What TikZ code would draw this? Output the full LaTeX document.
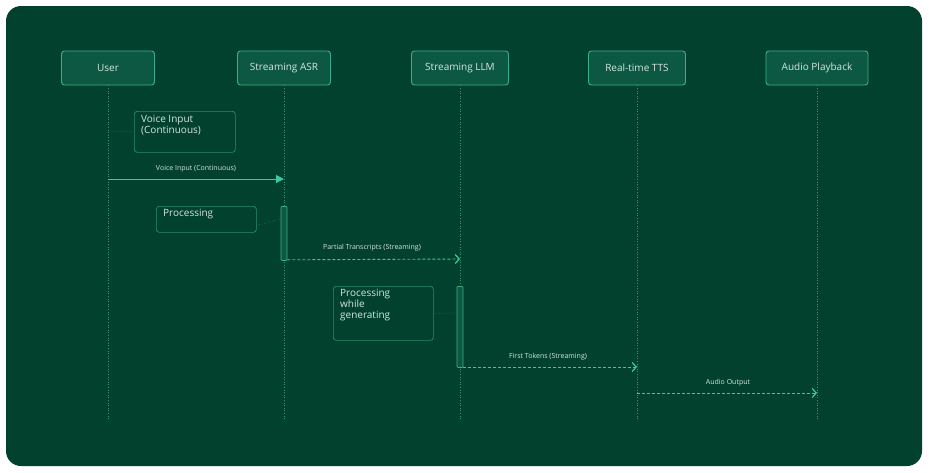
\documentclass[tikz,border=0pt]{standalone}
\usepackage{fontspec}
\setmainfont{Open Sans}
\usetikzlibrary{arrows.meta}
\definecolor{bg}{HTML}{02412E}
\definecolor{boxfill}{HTML}{0D5842}
\definecolor{edge}{HTML}{3AAE8A}
\definecolor{txt}{HTML}{D6E6DE}
\definecolor{arr}{HTML}{3CC9A2}
\begin{document}
\begin{tikzpicture}[x=1pt,y=-1pt,
  head/.style={draw=edge,fill=boxfill,rounded corners=3pt,line width=0.9pt,minimum width=93pt,minimum height=34pt,text=txt,font=\fontsize{10}{12}\selectfont},
  note/.style={draw=edge!70!bg,rounded corners=3pt,line width=0.7pt,text=txt,font=\fontsize{10}{11}\selectfont,align=left,anchor=north west,inner sep=0pt},
  life/.style={draw=edge!80!bg,dotted,line width=0.6pt},
  act/.style={draw=edge,fill=boxfill,line width=0.8pt,rounded corners=1pt},
  lbl/.style={text=txt,font=\fontsize{7}{8}\selectfont},
  msgsolid/.style={draw=arr,line width=1pt,-{Triangle[length=8pt,width=8pt]}},
  msgdash/.style={draw=arr,line width=0.9pt,dashed,dash pattern=on 3pt off 2pt,-{Straight Barb[length=4pt,width=9pt,line width=1.2pt]}},
  link/.style={draw=edge!60!bg,dotted,line width=0.6pt}]
\useasboundingbox (0,0) rectangle (929,472);
\fill[white] (0,0) rectangle (929,472);
\fill[bg,rounded corners=15pt] (6,6) rectangle (922,466);
% headers
\node[head] (u) at (108,68) {User};
\node[head] (asr) at (284,68) {Streaming ASR};
\node[head,minimum width=97pt] (llm) at (460,68) {Streaming LLM};
\node[head,minimum width=97pt] (tts) at (637,68) {Real-time TTS};
\node[head,minimum width=102pt] (ap) at (817,68) {Audio Playback};
% lifeline ends
\foreach \n/\x in {u/108,asr/284,llm/460,tts/637,ap/817}{
  \coordinate (\n e) at (\x,420);
  \draw[life] (\n.south) -- (\n e);
}
% note 1
\node[note,minimum width=101pt,minimum height=41pt] (n1) at (134,111) {};
\node[lbl,anchor=north west,font=\fontsize{10}{11}\selectfont,align=left,inner sep=0pt] at (141,115) {Voice Input\\(Continuous)};
\coordinate (n1l) at (108,131);
\draw[link] (n1l) -- (n1.west);
% msg 1
\coordinate (m1a) at (108,179); \coordinate (m1b) at (284,179);
\draw[msgsolid] (m1a) -- (m1b);
\node[lbl] at (196,169) {Voice Input (Continuous)};
% activation ASR
\node[act,minimum width=6pt,minimum height=54pt,inner sep=0pt,anchor=north] (a1) at (284,206) {};
\node[note,minimum width=100pt,minimum height=26pt] (n2) at (156,206) {};
\node[lbl,anchor=north west,font=\fontsize{10}{11}\selectfont,inner sep=0pt] at (163,209) {Processing};
\coordinate (n2r) at (281,219);
\draw[link] ([yshift=-6pt]n2.east) -- (n2r);
% msg 2
\coordinate (m2b) at (460,259);
\draw[msgdash] (a1.south east) ++(0,-1) coordinate (m2a) -- (m2b);
\node[lbl] at (372,248) {Partial Transcripts (Streaming)};
% activation LLM
\node[act,minimum width=6pt,minimum height=81pt,inner sep=0pt,anchor=north] (a2) at (460,286) {};
\node[note,minimum width=100pt,minimum height=54pt] (n3) at (333,286) {};
\node[lbl,anchor=north west,font=\fontsize{10}{11}\selectfont,align=left,inner sep=0pt] at (340,289) {Processing\\while\\generating};
\coordinate (n3r) at (457,313);
\draw[link] (n3.east) -- (n3r);
% msg 3
\coordinate (m3a) at (463,367); \coordinate (m3b) at (637,367);
\draw[msgdash] (m3a) -- (m3b);
\node[lbl] at (548,357) {First Tokens (Streaming)};
% msg 4
\coordinate (m4a) at (637,393); \coordinate (m4b) at (817,393);
\draw[msgdash] (m4a) -- (m4b);
\node[lbl] at (728,383) {Audio Output};
\end{tikzpicture}
\end{document}
